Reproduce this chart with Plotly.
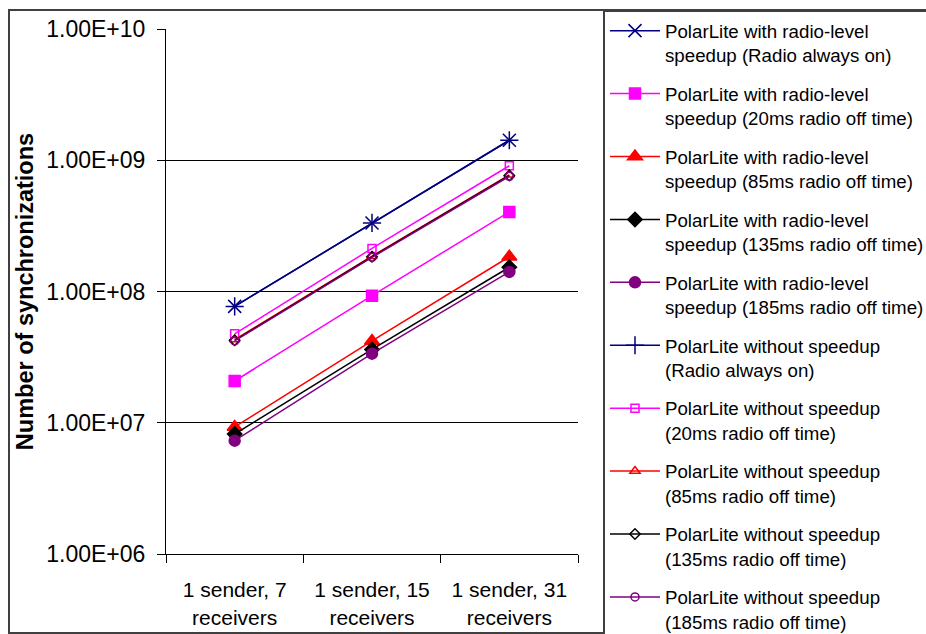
import plotly.graph_objects as go

categories = ["1 sender, 7<br>receivers", "1 sender, 15<br>receivers", "1 sender, 31<br>receivers"]

speedup_always_on = [7.7e7, 3.33e8, 1.42e9]
speedup_20ms = [2.08e7, 9.3e7, 4.04e8]
speedup_85ms = [9.3e6, 4.2e7, 1.84e8]
speedup_135ms = [8.2e6, 3.62e7, 1.53e8]
speedup_185ms = [7.3e6, 3.36e7, 1.41e8]
nospeed_always_on = [7.7e7, 3.33e8, 1.42e9]
nospeed_20ms = [4.76e7, 2.13e8, 9.08e8]
nospeed_85ms = [4.3e7, 1.86e8, 7.75e8]
nospeed_135ms = [4.25e7, 1.84e8, 7.65e8]
nospeed_185ms = [4.2e7, 1.82e8, 7.55e8]

names = [
    "PolarLite with radio-level<br>speedup (Radio always on)",
    "PolarLite with radio-level<br>speedup (20ms radio off time)",
    "PolarLite with radio-level<br>speedup (85ms radio off time)",
    "PolarLite with radio-level<br>speedup (135ms radio off time)",
    "PolarLite with radio-level<br>speedup (185ms radio off time)",
    "PolarLite without speedup<br>(Radio always on)",
    "PolarLite without speedup<br>(20ms radio off time)",
    "PolarLite without speedup<br>(85ms radio off time)",
    "PolarLite without speedup<br>(135ms radio off time)",
    "PolarLite without speedup<br>(185ms radio off time)",
]
series = [speedup_always_on, speedup_20ms, speedup_85ms, speedup_135ms, speedup_185ms,
          nospeed_always_on, nospeed_20ms, nospeed_85ms, nospeed_135ms, nospeed_185ms]

y_tickvals = [1e6, 1e7, 1e8, 1e9, 1e10]
y_ticktext = ["1.00E+06", "1.00E+07", "1.00E+08", "1.00E+09", "1.00E+10"]

colors = ["#000080", "#FF00FF", "#FF0000", "#000000", "#800080",
          "#000080", "#FF00FF", "#FF0000", "#000000", "#800080"]
symbols = ["x-thin-open", "square", "triangle-up", "diamond", "circle",
           "cross-thin-open", "square-open", "triangle-up-open", "diamond-open", "circle-open"]
sizes = [13, 11, 13, 11, 11, 13, 8, 9, 8, 8]

FONT = "Liberation Sans, Arial, sans-serif"

# plot area in page pixels
L, R, T, B = 166, 578, 29, 554
W, H = 926, 634
PW, PH = R - L, B - T

fig = go.Figure()
for i, (nm, ys) in enumerate(zip(names, series)):
    fig.add_trace(go.Scatter(
        x=categories, y=ys, name=nm, mode="lines+markers",
        legendgroup=f"g{i}",
        line=dict(color=colors[i], width=1.5),
        marker=dict(symbol=symbols[i], size=sizes[i], color=colors[i],
                    line=dict(color=colors[i], width=1.5)),
    ))

fig.update_layout(
    width=W, height=H,
    margin=dict(l=L, r=W - R, t=T, b=H - B, autoexpand=False),
    paper_bgcolor="white", plot_bgcolor="white",
    font=dict(family=FONT, color="#000000", size=22),
    showlegend=True,
    legend=dict(
        x=(603 - L) / PW, y=(B - 10) / PH, xanchor="left", yanchor="top",
        bordercolor="#404040", borderwidth=2, bgcolor="white",
        font=dict(family=FONT, size=18.7, color="#000000"),
        traceorder="grouped", tracegroupgap=11.3, valign="top",
        itemwidth=50, maxheight=800,
    ),
    xaxis=dict(
        type="category", range=[-0.5, 2.5],
        showline=True, linecolor="#000000", linewidth=1,
        ticks="outside", ticklen=8, tickcolor="#000000", tickson="boundaries",
        showgrid=False, tickfont=dict(size=21, family=FONT, color="#000000"),
        ticklabelstandoff=17,
    ),
    yaxis=dict(
        type="log", range=[6, 10],
        tickvals=y_tickvals, ticktext=y_ticktext,
        showline=True, linecolor="#000000", linewidth=1,
        ticks="outside", ticklen=8, tickcolor="#000000",
        showgrid=True, gridcolor="#000000", gridwidth=1,
        tickfont=dict(size=23, family=FONT, color="#000000"),
        ticklabelstandoff=7,
        title=dict(text="<b>Number of synchronizations</b>",
                   font=dict(size=23.5, family=FONT, color="#000000"), standoff=6),
    ),
    shapes=[dict(type="rect", xref="paper", yref="paper",
                 x0=(9 - L) / PW, x1=2.5, y0=(B - 633) / PH, y1=(B - 10) / PH,
                 line=dict(color="#404040", width=2), fillcolor="rgba(0,0,0,0)", layer="below")],
)

fig.write_html("out.html", config={"displayModeBar": False},
               post_script="document.body.style.margin='0';")
